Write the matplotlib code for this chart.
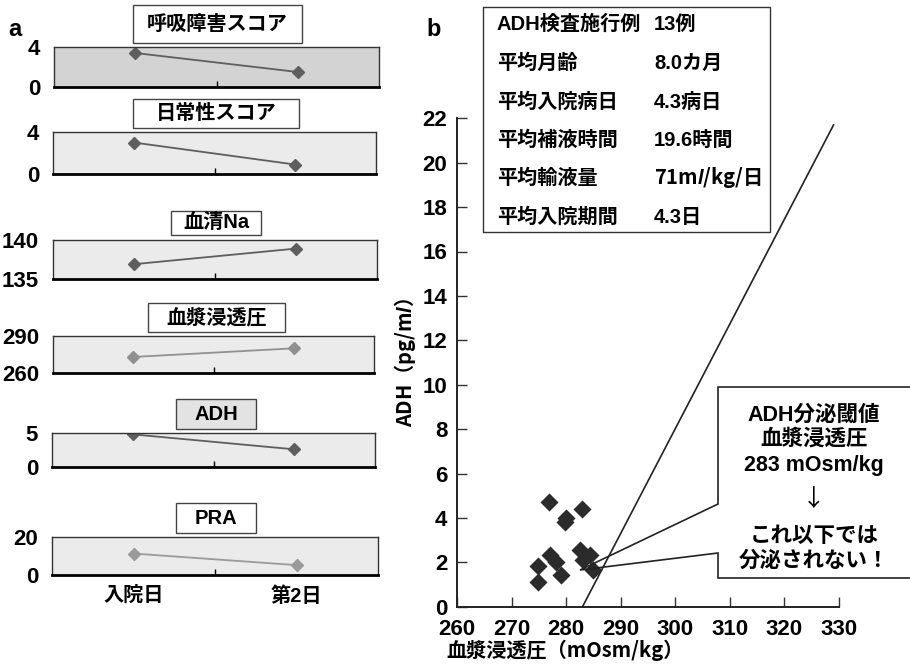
import matplotlib
matplotlib.use("Agg")
import matplotlib.pyplot as plt
from matplotlib.patches import Rectangle, Polygon

plt.rcParams['font.family'] = ['Liberation Sans', 'Noto Sans CJK JP']
plt.rcParams['font.weight'] = 'bold'
plt.rcParams['mathtext.fontset'] = 'custom'
plt.rcParams['mathtext.it'] = 'Liberation Sans:italic:bold'
plt.rcParams['mathtext.rm'] = 'Liberation Sans:bold'

# ---------------- data: panel a ----------------
days = ['入院日', '第2日']
resp_score = [3.4, 1.5]
daily_score = [3.0, 0.9]
serum_na = [136.9, 138.9]
plasma_osm = [273, 280]
adh_a = [4.8, 2.6]
pra = [11.3, 5.2]

titles_a = ['呼吸障害スコア', '日常性スコア', '血清Na', '血漿浸透圧', 'ADH', 'PRA']
series_a = [resp_score, daily_score, serum_na, plasma_osm, adh_a, pra]
ylims_a = [(0, 4), (0, 4), (135, 140), (260, 290), (0, 5), (0, 20)]

# ---------------- data: panel b ----------------
osm = [276.8, 282.9, 280.0, 279.8, 282.5, 284.3, 283.1, 277.0, 278.2, 274.8, 279.0, 274.8, 284.9]
adh = [4.7, 4.4, 4.0, 3.8, 2.55, 2.35, 2.1, 2.35, 2.0, 1.85, 1.45, 1.1, 1.65]
thr_x = [283, 329]
thr_y = [0, 21.7]
xticks_b = [260, 270, 280, 290, 300, 310, 320, 330]
yticks_b = [0, 2, 4, 6, 8, 10, 12, 14, 16, 18, 20, 22]

table_labels = ['ADH検査施行例', '平均月齢', '平均入院病日', '平均補液時間', '平均輸液量', '平均入院期間']
table_values = ['13例', '8.0カ月', '4.3病日', '19.6時間', '71m$\\mathit{l}$/kg/日', '4.3日']

callout_lines = ['ADH分泌閾値', '血漿浸透圧', '283 mOsm/kg', '↓', 'これ以下では', '分泌されない！']

W, H = 910, 664
fig = plt.figure(figsize=(W / 100, H / 100), dpi=100)


def fx(x):
    return x / W


def fy(y):
    return 1 - y / H


def add_axes_px(l, t, r, b):
    return fig.add_axes([fx(l), fy(b), fx(r) - fx(l), fy(t) - fy(b)])


# ---------------- panel a ----------------
axes_px = [(54, 47, 379, 87), (53, 132, 376, 174), (53, 240, 377, 279),
           (53, 336, 374, 373), (52, 433, 375, 467), (52, 537, 378, 575)]
title_px = [(133, 5, 302, 43), (133, 99, 299, 128), (171, 211, 261, 235),
            (148, 303, 285, 332), (176, 399, 256, 429), (176, 503, 256, 533)]
face_a = ['#d3d3d3', '#ebebeb', '#ebebeb', '#ebebeb', '#ebebeb', '#ebebeb']
mcol_a = ['#5e5e5e', '#5e5e5e', '#5e5e5e', '#909090', '#5e5e5e', '#9a9a9a']
tbox_face = ['white', 'white', 'white', 'white', '#e3e3e3', 'white']

for i in range(6):
    ax = add_axes_px(*axes_px[i])
    ax.set_facecolor(face_a[i])
    ax.plot([0.5, 1.5], series_a[i], color=mcol_a[i], lw=1.3,
            marker='D', ms=6, mfc=mcol_a[i], mec=mcol_a[i])
    ax.set_xlim(0, 2)
    ax.set_ylim(*ylims_a[i])
    ax.set_yticks(list(ylims_a[i]))
    ax.tick_params(axis='y', length=0, labelsize=16, pad=10)
    ax.set_xticks([1], minor=True)
    ax.tick_params(axis='x', which='minor', direction='in', length=4, width=1)
    if i == 5:
        ax.set_xticks([0.5, 1.5])
        ax.set_xticklabels(days)
        ax.tick_params(axis='x', which='major', length=0, labelsize=14.5, pad=8)
    else:
        ax.set_xticks([])
    for s in ['top', 'right', 'left']:
        ax.spines[s].set_color('#333333')
        ax.spines[s].set_linewidth(1.0)
    ax.spines['bottom'].set_linewidth(2.0)
    ax.spines['bottom'].set_color('black')
    l, t, r, b = title_px[i]
    fig.add_artist(Rectangle((fx(l), fy(b)), fx(r) - fx(l), fy(t) - fy(b),
                             transform=fig.transFigure, facecolor=tbox_face[i],
                             edgecolor='#444444', lw=1.0))
    fig.text(fx((l + r) / 2), fy((t + b) / 2), titles_a[i], ha='center', va='center',
             fontsize=14.5)

fig.text(fx(8), fy(30), 'a', fontsize=17, ha='left', va='center')
fig.text(fx(426), fy(30), 'b', fontsize=17, ha='left', va='center')

# ---------------- panel b ----------------
axb = add_axes_px(457, 118.3, 839, 606.7)
axb.scatter(osm, adh, marker='D', s=85, color='#2b2b2b', linewidths=0, zorder=3)
axb.plot(thr_x, thr_y, color='#222222', lw=1.2, zorder=2)
axb.set_xlim(260, 330)
axb.set_ylim(0, 22)
axb.set_xticks(xticks_b)
axb.set_yticks(yticks_b)
axb.tick_params(direction='in', length=7, width=1, labelsize=16, color='#333333')
axb.tick_params(axis='x', pad=9)
axb.tick_params(axis='y', pad=7)
for s in ['top', 'right']:
    axb.spines[s].set_visible(False)
for s in ['left', 'bottom']:
    axb.spines[s].set_linewidth(1.4)
    axb.spines[s].set_color('#222222')
axb.spines['left'].set_bounds(0, 22)

fig.text(fx(405), fy(362), 'ADH（pg/m$\\mathit{l}$）', rotation=90, ha='center', va='center',
         fontsize=14.5, family='Noto Sans CJK JP')
fig.text(fx(565), fy(650), '血漿浸透圧（mOsm/kg）', ha='center', va='center', fontsize=14.5,
         family=['Noto Sans CJK JP'])

# table box
fig.add_artist(Rectangle((fx(483), fy(232)), fx(770) - fx(483), fy(7) - fy(232),
                         transform=fig.transFigure, facecolor='white',
                         edgecolor='#333333', lw=1.0))
row_y = [24, 63, 102, 140, 178, 217]
for k in range(len(table_labels)):
    fig.text(fx(497), fy(row_y[k]), table_labels[k], ha='left', va='center', fontsize=14.5)
    fam = ['Noto Sans CJK JP'] if '$' in table_values[k] else None
    fig.text(fx(654), fy(row_y[k]), table_values[k], ha='left', va='center',
             fontsize=14.5, family=fam)

# callout
pts = [(915, 387), (718, 387), (718, 504), (580, 570), (718, 553), (718, 578), (915, 578)]
fig.add_artist(Polygon([(fx(x), fy(y)) for x, y in pts], closed=False,
                       transform=fig.transFigure, facecolor='none',
                       edgecolor='#222222', lw=1.2))
line_y = [415, 439, 465, 500, 537, 561]
for k in range(len(callout_lines)):
    if callout_lines[k] == '↓':
        fig.text(fx(814), fy(line_y[k]), callout_lines[k], ha='center', va='center',
                 fontsize=17, fontweight='normal', family=['Noto Sans CJK JP'])
    else:
        fig.text(fx(814), fy(line_y[k]), callout_lines[k], ha='center', va='center',
                 fontsize=15.5)

fig.savefig('out.png', dpi=100)
